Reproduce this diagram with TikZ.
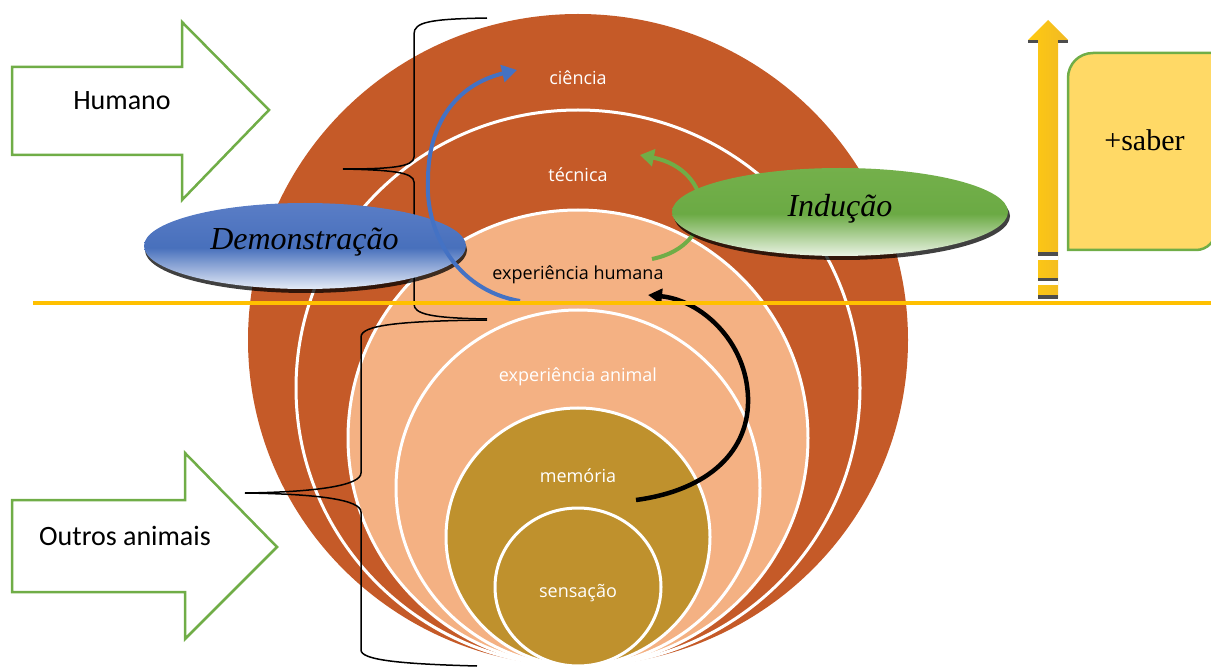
\documentclass[tikz,border=0pt]{standalone}
\usepackage{fontspec}
\setmainfont{Liberation Serif}
\newfontfamily\osans{Open Sans}
\newfontfamily\calib{Carlito}
\usetikzlibrary{arrows.meta}
\definecolor{dorange}{HTML}{C55A28}
\definecolor{lorange}{HTML}{F4B183}
\definecolor{olive}{HTML}{BF912D}
\definecolor{gold}{HTML}{FFC000}
\definecolor{ogreen}{HTML}{70AD47}
\definecolor{oblue}{HTML}{4472C4}
\definecolor{lyellow}{HTML}{FFD966}
\definecolor{dgrey}{HTML}{4D4D4D}
\definecolor{yleft}{HTML}{FFCA10}
\definecolor{yright}{HTML}{F0B925}
\definecolor{btop}{HTML}{5A7DC6}
\definecolor{bmid}{HTML}{4870BC}
\definecolor{bbot}{HTML}{E4EBF7}
\definecolor{gtop}{HTML}{74B04B}
\definecolor{gmid}{HTML}{6BAA44}
\definecolor{gbot}{HTML}{EAF3E4}
\pgfdeclareverticalshading{blueoval}{100bp}{color(0bp)=(bbot); color(25bp)=(bbot); color(49bp)=(bmid); color(75bp)=(btop); color(100bp)=(btop)}
\pgfdeclareverticalshading{greenoval}{100bp}{color(0bp)=(gbot); color(25bp)=(gbot); color(49bp)=(gmid); color(75bp)=(gtop); color(100bp)=(gtop)}
\tikzset{
  ring/.style={draw=white, line width=3pt},
  circlabel/.style={anchor=base, text=white, font=\osans\fontsize{18}{20}\selectfont, inner sep=0pt},
  blockarrow/.style={draw=ogreen, line width=2.5pt, fill=white, line join=miter},
  sidelabel/.style={anchor=base, font=\calib\fontsize{28}{30}\selectfont, inner sep=0pt},
  ovallabel/.style={anchor=base, font=\itshape\fontsize{32}{34}\selectfont, inner sep=0pt},
  bracestyle/.style={draw=black, line width=1.5pt},
  curvearrow/.style={line width=4pt},
  shadowoval/.style={fill=black, opacity=0.75}
}
\begin{document}
\begin{tikzpicture}[x=1pt,y=-1pt]
\useasboundingbox (0,0) rectangle (1211,668);
% concentric levels
\fill[dorange] (578,340) ellipse [x radius=330pt, y radius=326pt];
\draw[ring, fill=dorange] (578,388) ellipse [x radius=282pt, y radius=278pt];
\draw[ring, fill=lorange] (578,438) ellipse [x radius=230pt, y radius=228pt];
\draw[ring, fill=lorange] (578,488) ellipse [x radius=182pt, y radius=178pt];
\draw[ring, fill=olive] (578,537) ellipse [x radius=132pt, y radius=129pt];
\draw[ring, fill=olive] (578,587) ellipse [x radius=83pt, y radius=79pt];
\node[circlabel] (ciencia) at (578,85) {ciência};
\node[circlabel] (tecnica) at (578,182) {técnica};
\node[circlabel, text=black] (exphum) at (578,280) {experiência humana};
\node[circlabel] (expani) at (578,382) {experiência animal};
\node[circlabel] (memoria) at (578,482) {memória};
\node[circlabel] (sensacao) at (578,597) {sensação};

% block arrows
\draw[blockarrow] (12,67) -- (182,67) -- (182,22) -- (269,110) -- (182,200) -- (182,155) -- (12,155) -- cycle;
\node[sidelabel] (humano) at (122,110) {Humano};
\draw[blockarrow] (12,500) -- (185,500) -- (185,453) -- (277,547) -- (185,639) -- (185,592) -- (12,592) -- cycle;
\node[sidelabel] (outros) at (125,545) {Outros animais};

% braces
\coordinate (ubtip) at (343,169);
\draw[bracestyle] (487,18) .. controls (430,19) and (414,22) .. (414,34) -- (414,157)
  .. controls (414,167) and (390,169) .. (ubtip)
  .. controls (390,170) and (414,172) .. (414,182) -- (414,304)
  .. controls (414,314) and (430,318) .. (487,319);
\coordinate (lbtip) at (245,493);
\draw[bracestyle] (487,320) .. controls (400,321) and (361,325) .. (361,337) -- (361,473)
  .. controls (361,485) and (320,492) .. (lbtip)
  .. controls (320,494) and (361,500) .. (361,512) -- (361,650)
  .. controls (361,660) and (400,664) .. (477,666);

% green induction arrow (beneath the oval)
\coordinate (gstart) at (652,259);
\coordinate (gend) at (640,155);
\draw[curvearrow, ogreen, -{Triangle[length=14pt,width=17pt]}] (gstart) .. controls (720,245) and (715,170) .. (gend);

% ovals with shadows
\fill[shadowoval] (306,250) ellipse [x radius=161pt, y radius=43pt];
\shade[shading=blueoval] (305,246) ellipse [x radius=161pt, y radius=43pt];
\node[ovallabel] (demo) at (304.5,250) {Demonstração};
\fill[shadowoval] (842,216) ellipse [x radius=168pt, y radius=44pt];
\shade[shading=greenoval] (840,212) ellipse [x radius=168pt, y radius=44pt];
\node[ovallabel] (inducao) at (840,217) {Indução};

% blue demonstration arrow
\coordinate (bstart) at (520,301);
\coordinate (bmidpt) at (428,180);
\coordinate (bend) at (517,70);
\draw[curvearrow, oblue, -{Triangle[length=15pt,width=17pt]}] (bstart) .. controls (455,290) and (425,230) .. (bmidpt)
  .. controls (428,125) and (455,85) .. (bend);

% black arrow
\coordinate (kstart) at (636,500);
\coordinate (kmid) at (748,397);
\coordinate (kend) at (648,295);
\draw[curvearrow, black, line width=4.5pt, -{Triangle[length=14pt,width=15pt]}] (kstart) .. controls (710,490) and (750,450) .. (kmid)
  .. controls (746,340) and (700,300) .. (kend);

% horizontal division line
\coordinate (hl1) at (33,303);
\coordinate (hl2) at (1211,303);
\draw[gold, line width=3.5pt] (hl1) -- (hl2);

% vertical striped arrow
\shade[left color=yleft, right color=yright] (1038,298) -- (1038,40) -- (1028,40) -- (1048,20) -- (1068,40) -- (1058,40) -- (1058,298) -- cycle;
\fill[dgrey] (1028,40) rectangle (1038,43);
\fill[dgrey] (1058,40) rectangle (1068,43);
\fill[dgrey] (1038,252) rectangle (1058,256.5);
\fill[white] (1038,256.5) rectangle (1058,260);
\fill[dgrey] (1038,278) rectangle (1058,281.5);
\fill[white] (1038,281.5) rectangle (1058,285);
\fill[dgrey] (1038,295) rectangle (1058,299);

% +saber box
\draw[draw=ogreen, line width=2.5pt, fill=lyellow] (1068,250) -- (1068,78) .. controls (1068,64) and (1079,53) .. (1093,53) -- (1216,53) -- (1216,230) .. controls (1216,241) and (1207,250) .. (1196,250) -- cycle;
\node[anchor=base, font=\fontsize{30}{32}\selectfont, inner sep=0pt] (saber) at (1144.5,151) {+saber};
\end{tikzpicture}
\end{document}
